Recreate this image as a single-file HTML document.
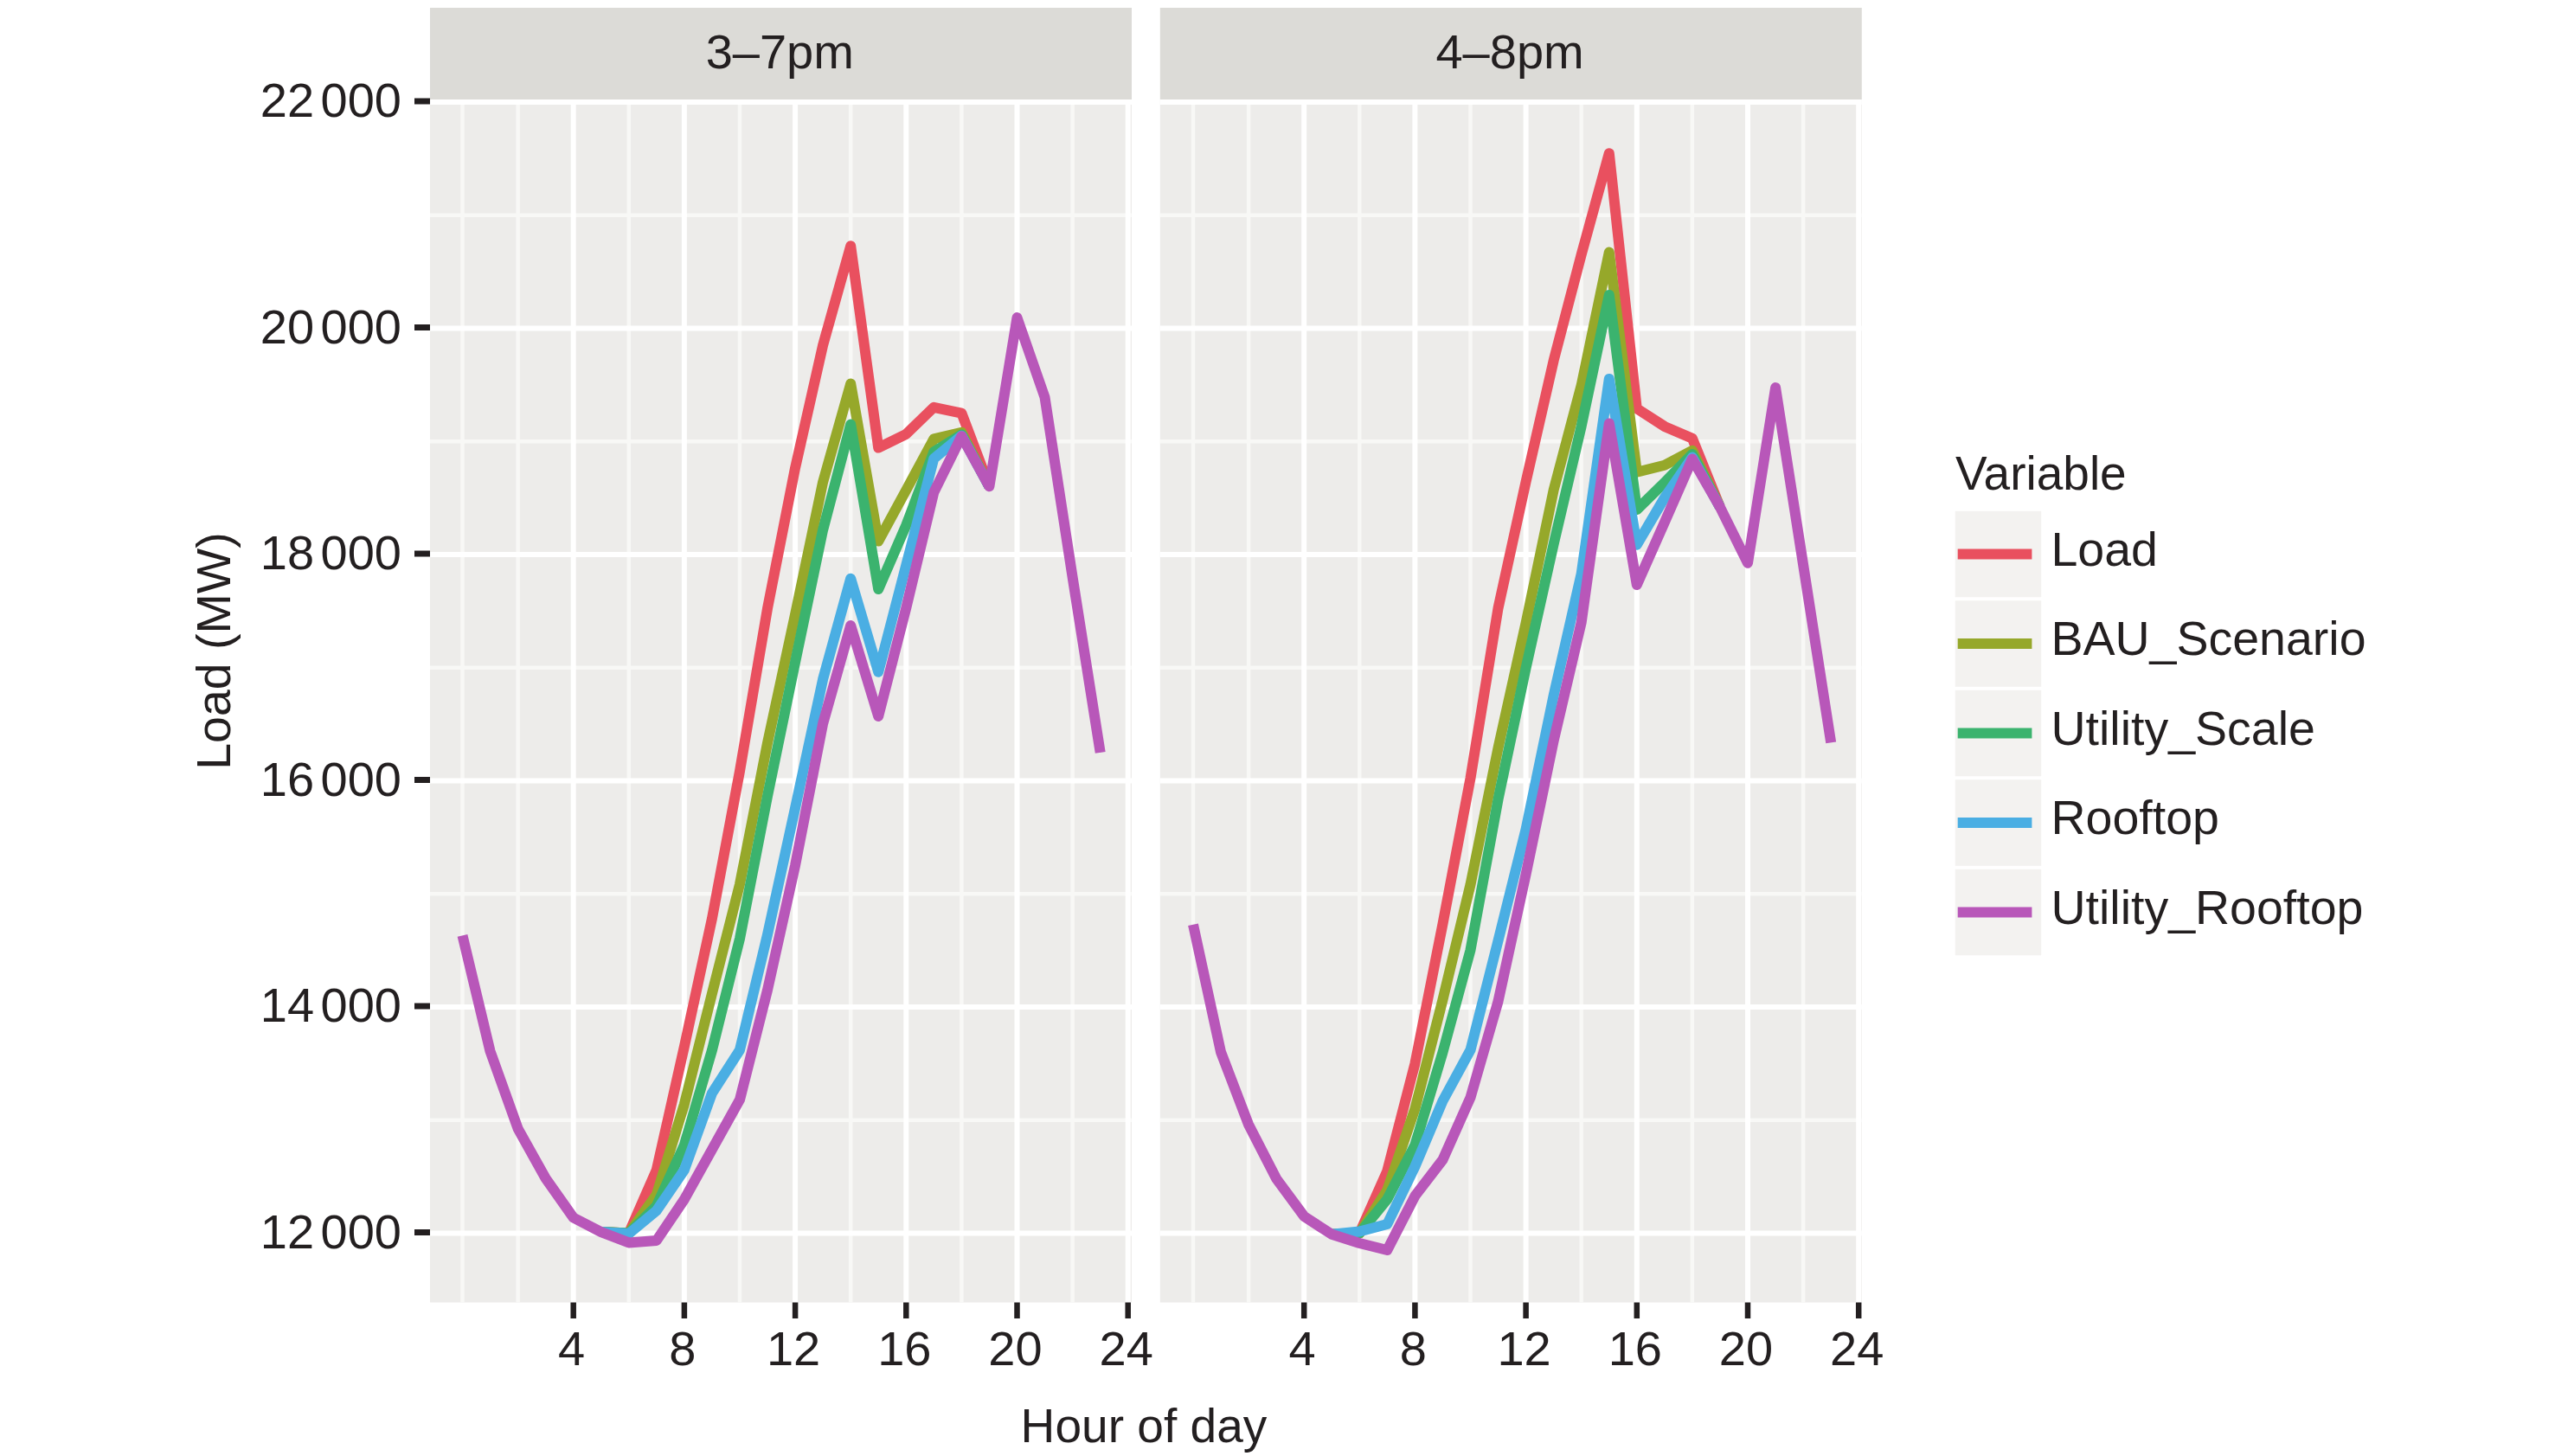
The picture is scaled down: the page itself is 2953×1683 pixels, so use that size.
<!DOCTYPE html><html><head><meta charset="utf-8"><style>html,body{margin:0;padding:0;background:#fff;overflow:hidden}svg{display:block;filter:blur(0.6px)}</style></head><body>
<svg width="2953" height="1683" viewBox="0 0 2953 1683" style="font-family:'Liberation Sans', sans-serif">
<rect width="2953" height="1683" fill="#fff"/>
<rect x="497" y="115" width="811" height="1390.5" fill="#edecea"/>
<line x1="497" x2="1308" y1="1294.8" y2="1294.8" stroke="#f8f8f6" stroke-width="4.5"/>
<line x1="497" x2="1308" y1="1033.2" y2="1033.2" stroke="#f8f8f6" stroke-width="4.5"/>
<line x1="497" x2="1308" y1="771.8" y2="771.8" stroke="#f8f8f6" stroke-width="4.5"/>
<line x1="497" x2="1308" y1="510.2" y2="510.2" stroke="#f8f8f6" stroke-width="4.5"/>
<line x1="497" x2="1308" y1="248.8" y2="248.8" stroke="#f8f8f6" stroke-width="4.5"/>
<line x1="534.5" x2="534.5" y1="115" y2="1505.5" stroke="#f8f8f6" stroke-width="4.5"/>
<line x1="598.6" x2="598.6" y1="115" y2="1505.5" stroke="#f8f8f6" stroke-width="4.5"/>
<line x1="726.8" x2="726.8" y1="115" y2="1505.5" stroke="#f8f8f6" stroke-width="4.5"/>
<line x1="855.0" x2="855.0" y1="115" y2="1505.5" stroke="#f8f8f6" stroke-width="4.5"/>
<line x1="983.2" x2="983.2" y1="115" y2="1505.5" stroke="#f8f8f6" stroke-width="4.5"/>
<line x1="1111.4" x2="1111.4" y1="115" y2="1505.5" stroke="#f8f8f6" stroke-width="4.5"/>
<line x1="1239.6" x2="1239.6" y1="115" y2="1505.5" stroke="#f8f8f6" stroke-width="4.5"/>
<line x1="497" x2="1308" y1="1425.5" y2="1425.5" stroke="#fff" stroke-width="6"/>
<line x1="497" x2="1308" y1="1164.0" y2="1164.0" stroke="#fff" stroke-width="6"/>
<line x1="497" x2="1308" y1="902.5" y2="902.5" stroke="#fff" stroke-width="6"/>
<line x1="497" x2="1308" y1="641.0" y2="641.0" stroke="#fff" stroke-width="6"/>
<line x1="497" x2="1308" y1="379.5" y2="379.5" stroke="#fff" stroke-width="6"/>
<line x1="497" x2="1308" y1="118.0" y2="118.0" stroke="#fff" stroke-width="6"/>
<line x1="662.7" x2="662.7" y1="115" y2="1505.5" stroke="#fff" stroke-width="6"/>
<line x1="790.9" x2="790.9" y1="115" y2="1505.5" stroke="#fff" stroke-width="6"/>
<line x1="919.1" x2="919.1" y1="115" y2="1505.5" stroke="#fff" stroke-width="6"/>
<line x1="1047.3" x2="1047.3" y1="115" y2="1505.5" stroke="#fff" stroke-width="6"/>
<line x1="1175.5" x2="1175.5" y1="115" y2="1505.5" stroke="#fff" stroke-width="6"/>
<line x1="1303.7" x2="1303.7" y1="115" y2="1505.5" stroke="#fff" stroke-width="6"/>
<rect x="497" y="9" width="811" height="106" fill="#dcdbd7"/>
<text x="901.3" y="79.2" font-size="56" fill="#231f20" text-anchor="middle">3–7pm</text>
<g fill="none" stroke-width="12" stroke-linejoin="round" stroke-linecap="butt">
<polyline points="694.8,1424.1 726.8,1425.5 758.8,1352.3 790.9,1209.8 823.0,1061.5 855.0,891.3 887.0,703.4 919.1,540.7 951.1,399.1 983.2,284.3 1015.2,517.6 1047.3,501.8 1079.3,470.8 1111.4,477.6 1143.4,562.3" stroke="#e9505f"/>
<polyline points="694.8,1424.1 726.8,1425.5 758.8,1381.0 790.9,1276.4 823.0,1148.3 855.0,1022.1 887.0,859.0 919.1,710.0 951.1,557.3 983.2,443.6 1015.2,625.6 1047.3,566.5 1079.3,507.4 1111.4,499.8 1143.4,562.3" stroke="#96a82a"/>
<polyline points="694.8,1424.1 726.8,1425.5 758.8,1394.1 790.9,1323.5 823.0,1213.7 855.0,1085.0 887.0,920.3 919.1,765.3 951.1,612.6 983.2,490.6 1015.2,681.0 1047.3,607.1 1079.3,522.4 1111.4,502.4 1143.4,562.3" stroke="#3bb36e"/>
<polyline points="694.8,1424.1 726.8,1426.0 758.8,1399.3 790.9,1352.3 823.0,1263.4 855.0,1213.7 887.0,1080.3 919.1,933.7 951.1,785.2 983.2,668.7 1015.2,776.7 1047.3,653.3 1079.3,530.1 1111.4,503.7 1143.4,562.3" stroke="#4aaee3"/>
<polyline points="534.5,1081.4 566.5,1215.0 598.6,1304.6 630.6,1362.0 662.7,1407.5 694.8,1424.1 726.8,1436.4 758.8,1434.0 790.9,1386.3 823.0,1328.7 855.0,1271.2 887.0,1144.5 919.1,1000.2 951.1,836.5 983.2,723.0 1015.2,828.0 1047.3,702.7 1079.3,569.1 1111.4,504.2 1143.4,562.3 1175.5,367.1 1207.5,459.1 1239.6,667.1 1271.7,869.9" stroke="#b857b9"/>
</g>
<line x1="662.7" x2="662.7" y1="1505.5" y2="1524" stroke="#231f20" stroke-width="6.5"/>
<text x="660.7" y="1578" font-size="56" fill="#231f20" text-anchor="middle">4</text>
<line x1="790.9" x2="790.9" y1="1505.5" y2="1524" stroke="#231f20" stroke-width="6.5"/>
<text x="788.9" y="1578" font-size="56" fill="#231f20" text-anchor="middle">8</text>
<line x1="919.1" x2="919.1" y1="1505.5" y2="1524" stroke="#231f20" stroke-width="6.5"/>
<text x="917.1" y="1578" font-size="56" fill="#231f20" text-anchor="middle">12</text>
<line x1="1047.3" x2="1047.3" y1="1505.5" y2="1524" stroke="#231f20" stroke-width="6.5"/>
<text x="1045.3" y="1578" font-size="56" fill="#231f20" text-anchor="middle">16</text>
<line x1="1175.5" x2="1175.5" y1="1505.5" y2="1524" stroke="#231f20" stroke-width="6.5"/>
<text x="1173.5" y="1578" font-size="56" fill="#231f20" text-anchor="middle">20</text>
<line x1="1303.7" x2="1303.7" y1="1505.5" y2="1524" stroke="#231f20" stroke-width="6.5"/>
<text x="1301.7" y="1578" font-size="56" fill="#231f20" text-anchor="middle">24</text>
<rect x="1340.8" y="115" width="811.0000000000002" height="1390.5" fill="#edecea"/>
<line x1="1340.8" x2="2151.8" y1="1294.8" y2="1294.8" stroke="#f8f8f6" stroke-width="4.5"/>
<line x1="1340.8" x2="2151.8" y1="1033.2" y2="1033.2" stroke="#f8f8f6" stroke-width="4.5"/>
<line x1="1340.8" x2="2151.8" y1="771.8" y2="771.8" stroke="#f8f8f6" stroke-width="4.5"/>
<line x1="1340.8" x2="2151.8" y1="510.2" y2="510.2" stroke="#f8f8f6" stroke-width="4.5"/>
<line x1="1340.8" x2="2151.8" y1="248.8" y2="248.8" stroke="#f8f8f6" stroke-width="4.5"/>
<line x1="1379.0" x2="1379.0" y1="115" y2="1505.5" stroke="#f8f8f6" stroke-width="4.5"/>
<line x1="1443.1" x2="1443.1" y1="115" y2="1505.5" stroke="#f8f8f6" stroke-width="4.5"/>
<line x1="1571.3" x2="1571.3" y1="115" y2="1505.5" stroke="#f8f8f6" stroke-width="4.5"/>
<line x1="1699.5" x2="1699.5" y1="115" y2="1505.5" stroke="#f8f8f6" stroke-width="4.5"/>
<line x1="1827.7" x2="1827.7" y1="115" y2="1505.5" stroke="#f8f8f6" stroke-width="4.5"/>
<line x1="1955.9" x2="1955.9" y1="115" y2="1505.5" stroke="#f8f8f6" stroke-width="4.5"/>
<line x1="2084.1" x2="2084.1" y1="115" y2="1505.5" stroke="#f8f8f6" stroke-width="4.5"/>
<line x1="1340.8" x2="2151.8" y1="1425.5" y2="1425.5" stroke="#fff" stroke-width="6"/>
<line x1="1340.8" x2="2151.8" y1="1164.0" y2="1164.0" stroke="#fff" stroke-width="6"/>
<line x1="1340.8" x2="2151.8" y1="902.5" y2="902.5" stroke="#fff" stroke-width="6"/>
<line x1="1340.8" x2="2151.8" y1="641.0" y2="641.0" stroke="#fff" stroke-width="6"/>
<line x1="1340.8" x2="2151.8" y1="379.5" y2="379.5" stroke="#fff" stroke-width="6"/>
<line x1="1340.8" x2="2151.8" y1="118.0" y2="118.0" stroke="#fff" stroke-width="6"/>
<line x1="1507.2" x2="1507.2" y1="115" y2="1505.5" stroke="#fff" stroke-width="6"/>
<line x1="1635.4" x2="1635.4" y1="115" y2="1505.5" stroke="#fff" stroke-width="6"/>
<line x1="1763.6" x2="1763.6" y1="115" y2="1505.5" stroke="#fff" stroke-width="6"/>
<line x1="1891.8" x2="1891.8" y1="115" y2="1505.5" stroke="#fff" stroke-width="6"/>
<line x1="2020.0" x2="2020.0" y1="115" y2="1505.5" stroke="#fff" stroke-width="6"/>
<line x1="2148.2" x2="2148.2" y1="115" y2="1505.5" stroke="#fff" stroke-width="6"/>
<rect x="1340.8" y="9" width="811.0000000000002" height="106" fill="#dcdbd7"/>
<text x="1745.1" y="79.2" font-size="56" fill="#231f20" text-anchor="middle">4–8pm</text>
<g fill="none" stroke-width="12" stroke-linejoin="round" stroke-linecap="butt">
<polyline points="1539.2,1426.8 1571.3,1425.5 1603.3,1353.6 1635.4,1229.4 1667.5,1067.9 1699.5,899.5 1731.5,703.1 1763.6,556.7 1795.7,416.6 1827.7,294.3 1859.8,177.2 1891.8,472.3 1923.8,492.9 1955.9,506.7 1987.9,586.1" stroke="#e9505f"/>
<polyline points="1539.2,1426.8 1571.3,1425.5 1603.3,1375.8 1635.4,1281.7 1667.5,1155.4 1699.5,1022.5 1731.5,864.7 1763.6,720.0 1795.7,566.2 1827.7,445.4 1859.8,291.5 1891.8,545.8 1923.8,537.7 1955.9,520.7 1987.9,586.1" stroke="#96a82a"/>
<polyline points="1539.2,1426.8 1571.3,1425.5 1603.3,1386.3 1635.4,1323.5 1667.5,1216.3 1699.5,1098.2 1731.5,924.1 1763.6,772.1 1795.7,628.7 1827.7,492.6 1859.8,340.9 1891.8,589.1 1923.8,557.7 1955.9,525.0 1987.9,586.1" stroke="#3bb36e"/>
<polyline points="1539.2,1426.8 1571.3,1423.5 1603.3,1415.0 1635.4,1348.4 1667.5,1272.5 1699.5,1213.7 1731.5,1087.4 1763.6,958.5 1795.7,803.7 1827.7,663.2 1859.8,437.9 1891.8,629.8 1923.8,575.4 1955.9,528.6 1987.9,586.1" stroke="#4aaee3"/>
<polyline points="1379.0,1068.7 1411.0,1216.0 1443.1,1300.0 1475.2,1362.5 1507.2,1405.9 1539.2,1426.8 1571.3,1437.0 1603.3,1445.0 1635.4,1382.4 1667.5,1340.5 1699.5,1268.6 1731.5,1157.5 1763.6,1010.5 1795.7,856.1 1827.7,719.4 1859.8,489.5 1891.8,676.0 1923.8,603.9 1955.9,530.5 1987.9,586.1 2020.0,650.8 2052.1,448.1 2084.1,652.8 2116.2,858.4" stroke="#b857b9"/>
</g>
<line x1="1507.2" x2="1507.2" y1="1505.5" y2="1524" stroke="#231f20" stroke-width="6.5"/>
<text x="1505.2" y="1578" font-size="56" fill="#231f20" text-anchor="middle">4</text>
<line x1="1635.4" x2="1635.4" y1="1505.5" y2="1524" stroke="#231f20" stroke-width="6.5"/>
<text x="1633.4" y="1578" font-size="56" fill="#231f20" text-anchor="middle">8</text>
<line x1="1763.6" x2="1763.6" y1="1505.5" y2="1524" stroke="#231f20" stroke-width="6.5"/>
<text x="1761.6" y="1578" font-size="56" fill="#231f20" text-anchor="middle">12</text>
<line x1="1891.8" x2="1891.8" y1="1505.5" y2="1524" stroke="#231f20" stroke-width="6.5"/>
<text x="1889.8" y="1578" font-size="56" fill="#231f20" text-anchor="middle">16</text>
<line x1="2020.0" x2="2020.0" y1="1505.5" y2="1524" stroke="#231f20" stroke-width="6.5"/>
<text x="2018.0" y="1578" font-size="56" fill="#231f20" text-anchor="middle">20</text>
<line x1="2148.2" x2="2148.2" y1="1505.5" y2="1524" stroke="#231f20" stroke-width="6.5"/>
<text x="2146.2" y="1578" font-size="56" fill="#231f20" text-anchor="middle">24</text>
<line x1="479" x2="497" y1="1424.5" y2="1424.5" stroke="#231f20" stroke-width="7"/>
<text x="464" y="1442.5" font-size="56" fill="#231f20" text-anchor="end">12<tspan dx="7.5">000</tspan></text>
<line x1="479" x2="497" y1="1163.0" y2="1163.0" stroke="#231f20" stroke-width="7"/>
<text x="464" y="1181.0" font-size="56" fill="#231f20" text-anchor="end">14<tspan dx="7.5">000</tspan></text>
<line x1="479" x2="497" y1="901.5" y2="901.5" stroke="#231f20" stroke-width="7"/>
<text x="464" y="919.5" font-size="56" fill="#231f20" text-anchor="end">16<tspan dx="7.5">000</tspan></text>
<line x1="479" x2="497" y1="640.0" y2="640.0" stroke="#231f20" stroke-width="7"/>
<text x="464" y="658.0" font-size="56" fill="#231f20" text-anchor="end">18<tspan dx="7.5">000</tspan></text>
<line x1="479" x2="497" y1="378.5" y2="378.5" stroke="#231f20" stroke-width="7"/>
<text x="464" y="396.5" font-size="56" fill="#231f20" text-anchor="end">20<tspan dx="7.5">000</tspan></text>
<line x1="479" x2="497" y1="117.0" y2="117.0" stroke="#231f20" stroke-width="7"/>
<text x="464" y="135.0" font-size="56" fill="#231f20" text-anchor="end">22<tspan dx="7.5">000</tspan></text>
<text x="1322" y="1666.8" font-size="55.1" fill="#231f20" text-anchor="middle">Hour of day</text>
<text transform="translate(266.4,752.6) rotate(-90)" x="0" y="0" font-size="55.5" fill="#231f20" text-anchor="middle">Load (MW)</text>
<text x="2260" y="565.8" font-size="55" fill="#231f20">Variable</text>
<rect x="2259.7" y="590.8" width="99.5" height="99.5" fill="#f3f2f0"/>
<line x1="2262.7" x2="2348.4" y1="640.5" y2="640.5" stroke="#e9505f" stroke-width="12"/>
<text x="2370.5" y="653.8" font-size="55.5" fill="#231f20">Load</text>
<rect x="2259.7" y="694.3" width="99.5" height="99.5" fill="#f3f2f0"/>
<line x1="2262.7" x2="2348.4" y1="744.0" y2="744.0" stroke="#96a82a" stroke-width="12"/>
<text x="2370.5" y="757.2" font-size="55.5" fill="#231f20">BAU_Scenario</text>
<rect x="2259.7" y="797.8" width="99.5" height="99.5" fill="#f3f2f0"/>
<line x1="2262.7" x2="2348.4" y1="847.5" y2="847.5" stroke="#3bb36e" stroke-width="12"/>
<text x="2370.5" y="860.8" font-size="55.5" fill="#231f20">Utility_Scale</text>
<rect x="2259.7" y="901.3" width="99.5" height="99.5" fill="#f3f2f0"/>
<line x1="2262.7" x2="2348.4" y1="951.0" y2="951.0" stroke="#4aaee3" stroke-width="12"/>
<text x="2370.5" y="964.2" font-size="55.5" fill="#231f20">Rooftop</text>
<rect x="2259.7" y="1004.8" width="99.5" height="99.5" fill="#f3f2f0"/>
<line x1="2262.7" x2="2348.4" y1="1054.5" y2="1054.5" stroke="#b857b9" stroke-width="12"/>
<text x="2370.5" y="1067.8" font-size="55.5" fill="#231f20">Utility_Rooftop</text>
</svg></body></html>
